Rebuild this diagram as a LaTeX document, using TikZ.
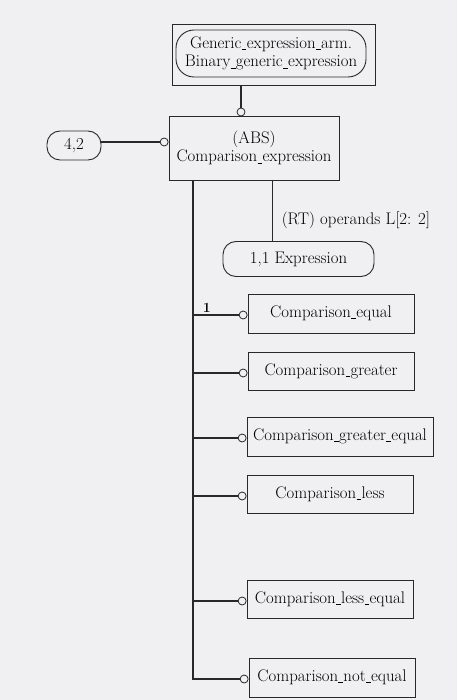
\documentclass[tikz,border=0pt]{standalone}
\begin{document}
\definecolor{bgc}{RGB}{240,240,243}
\definecolor{linec}{RGB}{40,40,40}
\newcommand{\fs}{\fontsize{16.8}{18.5}\selectfont}
\newcommand{\us}{\kern0.4pt\rule[-1.4pt]{4.6pt}{0.75pt}\kern0.4pt}
\begin{tikzpicture}[x=1pt,y=-1pt,
  box/.style={draw=linec, line width=0.9pt, rectangle, inner sep=0pt, align=center, font=\fs, text=black},
  rbox/.style={box, rounded corners=13pt},
  dot/.style={circle, draw=linec, fill=bgc, line width=0.8pt, inner sep=0pt, minimum size=8pt},
  heavy/.style={draw=linec, line width=1.8pt},
  lite/.style={draw=linec, line width=0.9pt}]
\fill[bgc] (0,0) rectangle (457,700);
\useasboundingbox (0,0) rectangle (457,700);
% top
\node[box, minimum width=203pt, minimum height=61pt] (top) at (273.5,54.5) {};
\node[rbox, rounded corners=18pt, minimum width=190pt, minimum height=47pt] (arm) at (271,53.5)
  {Generic\us expression\us arm.\\Binary\us generic\us expression};
% ABS
\node[box, minimum width=170pt, minimum height=64pt] (abs) at (254,148) {(ABS)\\Comparison\us expression};
\node[rbox, minimum width=54pt, minimum height=29pt] (ft) at (74,145.5) {4,2};
\node[dot] (ct) at (241,112) {};
\node[dot, anchor=east] (cl) at (abs.west |- 0,142) {};
\draw[heavy] (top.south -| ct) -- (ct);
\draw[heavy] (ft.east |- cl) -- (cl);
% RT
\node[rbox, minimum width=151pt, minimum height=35pt] (ex) at (298.5,259) {1,1 Expression};
\coordinate (rtx) at (272,0);
\draw[lite] (abs.south -| rtx) -- (ex.north -| rtx) node[pos=0.5, anchor=west, font=\fs, xshift=6pt, yshift=-10pt] (rtl) {(RT) operands L[2: 2]};
% subtypes
\node[box, minimum width=166pt, minimum height=39pt] (eq) at (331,313.5) {Comparison\us equal};
\node[box, minimum width=166pt, minimum height=38pt] (gt) at (331,371) {Comparison\us greater};
\node[box, minimum width=186pt, minimum height=39pt] (ge) at (340,436.5) {Comparison\us greater\us equal};
\node[box, minimum width=166pt, minimum height=38pt] (lt) at (330,494) {Comparison\us less};
\node[box, minimum width=166pt, minimum height=38pt] (le) at (330,599) {Comparison\us less\us equal};
\node[box, minimum width=166pt, minimum height=39pt] (ne) at (332,677.5) {Comparison\us not\us equal};
\node[dot, anchor=east] (c1) at (eq.west |- 0,315) {};
\node[dot, anchor=east] (c2) at (gt.west |- 0,373) {};
\node[dot, anchor=east] (c3) at (ge.west |- 0,438) {};
\node[dot, anchor=east] (c4) at (lt.west |- 0,496) {};
\node[dot, anchor=east] (c5) at (le.west |- 0,601) {};
\node[dot, anchor=east] (c6) at (ne.west |- 0,679) {};
\coordinate (bx) at (193,0);
\draw[heavy] (abs.south -| bx) -- (c6 -| bx) -- (c6);
\draw[heavy] (c1 -| bx) -- (c1) node[pos=0.3, anchor=south, font=\fontsize{14}{16}\selectfont\bfseries, inner sep=1.5pt] (one) {1};
\draw[heavy] (c2 -| bx) -- (c2);
\draw[heavy] (c3 -| bx) -- (c3);
\draw[heavy] (c4 -| bx) -- (c4);
\draw[heavy] (c5 -| bx) -- (c5);
\end{tikzpicture}
\end{document}
